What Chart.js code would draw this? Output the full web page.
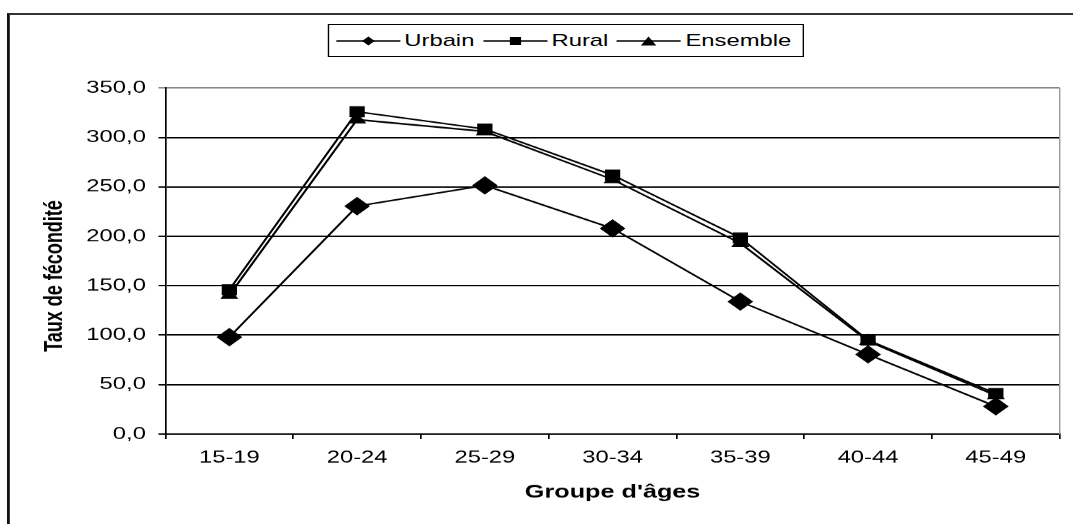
<!DOCTYPE html>
<html lang="fr">
<head>
<meta charset="utf-8">
<script src="https://cdn.jsdelivr.net/npm/chart.js@4/dist/chart.umd.min.js"></script>
<style>
  html, body { margin: 0; padding: 0; background: #fff; }
  body { width: 1073px; height: 524px; overflow: hidden; position: relative; }
  /* le graphique d'origine est étiré horizontalement */
  #wrap {
    position: absolute; left: 0; top: 0;
    width: 766px; height: 524px;
    transform: scaleX(1.40078); transform-origin: 0 0;
  }
  #cadre {
    position: absolute; left: 5.2px; top: 12.5px;
    width: 900px; height: 600px;
    border-top: 2px solid #333; border-left: 2.5px solid #111;
  }
  #graphe { position: absolute; left: 0; top: 0; }
  #legende {
    position: absolute; left: 233.6px; top: 24px;
    box-sizing: border-box; width: 340.2px; height: 33px;
    border: 1.5px solid #000; background: #fff;
    display: flex; align-items: center; padding-left: 5px;
    font: 17px Arial, "Liberation Sans", sans-serif; color: #000;
  }
  #legende .item { display: flex; align-items: center; margin-right: 6px; }
  #legende span { margin-left: 3px; }
</style>
</head>
<body>
<div id="wrap">
  <div id="cadre"></div>
  <canvas id="graphe" width="766" height="524"></canvas>
  <div id="legende"></div>
</div>
<script>
"use strict";

// Données
const groupes = ["15-19", "20-24", "25-29", "30-34", "35-39", "40-44", "45-49"];
const urbain = [98.0, 230.5, 251.5, 208.0, 134.0, 80.5, 28.0];
const rural = [146.0, 326.0, 308.5, 262.0, 198.5, 95.0, 41.0];
const ensemble = [140.5, 318.0, 306.0, 257.5, 193.0, 94.0, 39.0];
const series = ["Urbain", "Rural", "Ensemble"];
const yMin = 0, yMax = 350, yPas = 50;

const police = 'Arial, "Liberation Sans", sans-serif';
Chart.defaults.font.family = police;
Chart.defaults.color = "#000";

const virgule = (v) => v.toFixed(1).replace(".", ",");

// légende (symboles ligne + marqueur)
const symboles = {
  Urbain: '<polygon points="23,2.5 27.5,7 23,11.5 18.5,7" fill="#000"/>',
  Rural: '<rect x="19" y="3" width="8" height="8" fill="#000"/>',
  Ensemble: '<polygon points="23,2.5 28.5,11.5 17.5,11.5" fill="#000"/>',
};
document.getElementById("legende").innerHTML = series
  .map(
    (nom) =>
      '<div class="item"><svg width="46" height="14">' +
      '<line x1="0" y1="7" x2="46" y2="7" stroke="#000" stroke-width="1.3"/>' +
      symboles[nom] +
      "</svg><span>" + nom + "</span></div>"
  )
  .join("");

const serie = (label, data, style, rayon) => ({
  label,
  data,
  borderColor: "#000",
  backgroundColor: "#000",
  borderWidth: 1.6,
  pointStyle: style,
  pointRadius: rayon,
  pointBorderWidth: 1,
  pointBackgroundColor: "#000",
  pointBorderColor: "#000",
  tension: 0,
});

new Chart(document.getElementById("graphe"), {
  type: "line",
  data: {
    labels: groupes,
    datasets: [
      serie(series[0], urbain, "rectRot", 8.5),
      serie(series[1], rural, "rect", 7),
      serie(series[2], ensemble, "triangle", 6.5),
    ],
  },
  options: {
    responsive: false,
    devicePixelRatio: 1.40078,
    animation: false,
    layout: { padding: { left: 0, right: 4.6, top: 88, bottom: 0 } },
    plugins: { legend: { display: false }, tooltip: { enabled: false } },
    scales: {
      x: {
        offset: true,
        grid: {
          offset: true,
          drawOnChartArea: false,
          drawTicks: true,
          tickLength: 5,
          color: "#000",
          lineWidth: 1.2,
        },
        border: { display: true, color: "#000", width: 1.4 },
        ticks: { font: { size: 17 }, color: "#000", padding: 9, maxRotation: 0 },
        title: {
          display: true,
          text: "Groupe d'âges",
          font: { size: 18, weight: "bold" },
          color: "#000",
          padding: { top: 0, bottom: 20.7 },
        },
        afterFit: (s) => { s.height = 90; },
      },
      y: {
        min: yMin,
        max: yMax,
        grid: {
          color: (c) => (c.tick && c.tick.value === yMax ? "#888" : "#000"),
          lineWidth: 1.4,
          tickLength: 5,
        },
        border: { display: true, color: "#000", width: 1.2 },
        ticks: {
          stepSize: yPas,
          font: { size: 17 },
          color: "#000",
          padding: 9,
          callback: (v) => virgule(v),
        },
        title: {
          display: true,
          text: "Taux de fécondité\u00a0\u00a0\u00a0\u00a0\u00a0\u00a0",
          font: { size: 18, weight: "bold" },
          color: "#000",
          padding: { top: 28.8, bottom: 0 },
        },
        afterFit: (s) => { s.width = 118.15; },
      },
      bord: {
        type: "linear",
        position: "right",
        grid: { display: false },
        ticks: { display: false },
        border: { display: true, color: "#999", width: 1 },
        afterFit: (s) => { s.width = 0; },
      },
    },
  },
});
</script>
</body>
</html>
